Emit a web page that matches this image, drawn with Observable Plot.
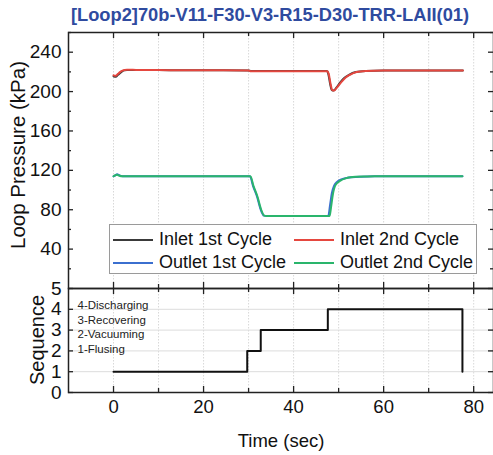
<!DOCTYPE html>
<html><head><meta charset="utf-8">
<script src="https://cdn.jsdelivr.net/npm/d3@7"></script>
<script src="https://cdn.jsdelivr.net/npm/@observablehq/plot@0.6"></script>
<style>
body{margin:0;background:#fff;font-family:Arial,"Liberation Sans",sans-serif;}
#wrap{position:relative;width:493px;height:455px;overflow:hidden;background:#fff;}
#wrap svg{position:absolute;left:0;background:transparent !important;}
.t{position:absolute;color:#111;white-space:nowrap;}
#title{left:40px;width:460px;top:4px;text-align:center;font-weight:bold;font-size:18.3px;color:#2f4b9f;}
#ylab1{left:18px;top:155px;font-size:20.5px;transform:translate(-50%,-50%) rotate(-90deg);}
#ylab2{left:37px;top:340px;font-size:20px;transform:translate(-50%,-50%) rotate(-90deg);}
#xlab{left:281px;top:441px;font-size:18.5px;transform:translate(-50%,-50%);}
#legend{position:absolute;left:109px;top:224px;width:368px;height:50px;border:1px solid #9a9a9a;background:#fff;box-sizing:border-box;}
.li{position:absolute;font-size:18px;color:#111;}
.li span{position:absolute;width:40px;height:1.6px;top:10px;left:0;}
.li b{font-weight:normal;position:absolute;left:46px;top:-1px;white-space:nowrap;line-height:22px;}
</style></head>
<body>
<div id="wrap">
<div id="p1"></div><div id="p2"></div>
<div class="t" id="title">[Loop2]70b-V11-F30-V3-R15-D30-TRR-LAII(01)</div>
<div class="t" id="ylab1">Loop Pressure (kPa)</div>
<div class="t" id="ylab2">Sequence</div>
<div class="t" id="xlab">Time (sec)</div>
<div id="legend"></div>
</div>
<script>
// ---- data ----
const seriesNames = ["Inlet 1st Cycle", "Inlet 2nd Cycle", "Outlet 1st Cycle", "Outlet 2nd Cycle"];
const seriesColors = ["#3a3a3a", "#e5473f", "#3b6fcf", "#2ab56c"];

const inlet1T = [0, 0.5, 1, 1.5, 2, 2.5, 3, 5, 10, 20, 30, 30.5, 40, 47.4, 47.7, 48.1, 48.5, 48.9, 49.5, 50.4, 51.3, 52.3, 53.8, 56, 60, 70, 77.6];
const inlet1P = [215.5, 215, 217, 219, 220.8, 221.6, 222, 222, 221.8, 221.6, 221.5, 220.8, 220.8, 220.8, 218, 208, 201.5, 201, 204, 209.5, 214, 217, 219.8, 221, 221.5, 221.5, 221.5];
const inlet2T = [0, 0.5, 1, 1.5, 2, 2.5, 3, 5, 10, 20, 30, 30.5, 40, 47.5, 47.8, 48.2, 48.6, 49, 49.6, 50.5, 51.5, 52.5, 54, 56, 60, 70, 77.6];
const inlet2P = [216.5, 216, 218, 220, 221.3, 221.9, 222.1, 222, 221.8, 221.6, 221.5, 220.6, 220.6, 220.6, 218, 208, 201.5, 201, 204, 209, 214, 217, 219.8, 221, 221.5, 221.5, 221.5];
const outlet1T = [0, 0.4, 0.8, 1.3, 2, 5, 10, 20, 30.3, 31, 31.9, 32.7, 33.4, 34, 40, 47.7, 48.1, 48.5, 49, 49.7, 50.6, 51.8, 53, 55, 58, 65, 77.5];
const outlet1P = [114, 115, 116, 115, 114, 114, 114, 114, 114, 104, 93, 80, 74, 73.6, 73.6, 73.6, 85, 97, 104.5, 108.5, 110.8, 112.3, 113, 113.6, 114, 114, 114];
const outlet2T = [0, 0.4, 0.8, 1.3, 2, 5, 10, 20, 30.4, 31.1, 32, 32.8, 33.5, 34, 40, 48, 48.3, 48.7, 49.3, 50.4, 51.5, 52.7, 54, 56, 58, 65, 77.5];
const outlet2P = [114, 115, 115.5, 114.5, 114, 114, 114, 114, 114, 104, 93, 80, 74, 73.6, 73.6, 73.6, 82, 95, 105, 109.5, 111.8, 113, 113.5, 113.8, 114, 114, 114];

const seqT = [0, 29.7, 32.7, 47.6, 77.5, 77.5];
const seqV = [1, 2, 3, 4, 4, 1];
const seqLabels = ["4-Discharging", "3-Recovering", "2-Vacuuming", "1-Flusing"];

const xMajor = [0, 20, 40, 60, 80];
const xMinor = [10, 30, 50, 70];
const xGrid = [0, 10, 20, 30, 40, 50, 60, 70, 80];
const yMajor = [40, 80, 120, 160, 200, 240];
const yMinor = [20, 60, 100, 140, 180, 220, 260];
const seqTicks = [0, 1, 2, 3, 4, 5];
const seqGrid = [1, 2, 3, 4];

// ---- build ----
const W = 493, ML = 68, MR = 0;
const IW = W - ML - MR;
const xDomain = [-10, 84.4];
const frameColor = "#222";

function mk(ts, ps, name) { return ts.map((t, i) => ({t, p: ps[i], s: name})); }
const pData = [
  ...mk(inlet1T, inlet1P, seriesNames[0]),
  ...mk(outlet1T, outlet1P, seriesNames[2]),
  ...mk(inlet2T, inlet2P, seriesNames[1]),
  ...mk(outlet2T, outlet2P, seriesNames[3])
];
const colorOf = Object.fromEntries(seriesNames.map((n, i) => [n, seriesColors[i]]));

// top panel
const H1 = 290, MT1 = 32, MB1 = 2;
const IH1 = H1 - MT1 - MB1;
const p1 = Plot.plot({
  width: W, height: H1, marginLeft: ML, marginRight: MR, marginTop: MT1, marginBottom: MB1,
  style: {background: "transparent", fontFamily: "Arial, 'Liberation Sans', sans-serif", color: "#111", overflow: "visible"},
  x: {domain: xDomain, axis: null},
  y: {domain: [0, 260], axis: null},
  marks: [
    Plot.ruleX(xGrid, {stroke: "#d8d8d8", strokeDasharray: "1.5,1.5", strokeWidth: 1}),
    Plot.line(pData, {x: "t", y: "p", z: "s", stroke: d => colorOf[d.s], strokeWidth: 2, curve: "monotone-x"}),
    Plot.axisY(yMajor, {tickSize: 0, tickPadding: 7, fontSize: 19, label: null}),
    Plot.tickY(yMajor, {y: d => d, insetRight: IW - 5, stroke: frameColor, strokeWidth: 1.3}),
    Plot.tickY(yMinor, {y: d => d, insetRight: IW - 3, stroke: frameColor, strokeWidth: 1.3}),
    Plot.tickY(yMajor, {y: d => d, insetLeft: IW - 5, stroke: frameColor, strokeWidth: 1.3}),
    Plot.tickY(yMinor, {y: d => d, insetLeft: IW - 3, stroke: frameColor, strokeWidth: 1.3}),
    Plot.tickX(xMajor, {x: d => d, insetBottom: IH1 - 6, stroke: frameColor, strokeWidth: 1.3}),
    Plot.tickX(xMinor, {x: d => d, insetBottom: IH1 - 4, stroke: frameColor, strokeWidth: 1.3}),
    Plot.tickX(xMajor, {x: d => d, insetTop: IH1 - 6, stroke: frameColor, strokeWidth: 1.3}),
    Plot.tickX(xMinor, {x: d => d, insetTop: IH1 - 4, stroke: frameColor, strokeWidth: 1.3}),
    Plot.frame({stroke: frameColor, strokeWidth: 1.5})
  ]
});
p1.style.top = "0px";
document.getElementById("p1").appendChild(p1);

// bottom panel
const H2 = 177, MT2 = 10, MB2 = 63;
const IH2 = H2 - MT2 - MB2;
const seqData = seqT.map((t, i) => ({t, v: seqV[i]}));
const p2 = Plot.plot({
  width: W, height: H2, marginLeft: ML, marginRight: MR, marginTop: MT2, marginBottom: MB2,
  style: {background: "transparent", fontFamily: "Arial, 'Liberation Sans', sans-serif", color: "#111", overflow: "visible"},
  x: {domain: xDomain, axis: null},
  y: {domain: [0, 5], axis: null},
  marks: [
    Plot.ruleX(xGrid, {stroke: "#d8d8d8", strokeDasharray: "1.5,1.5", strokeWidth: 1}),
    Plot.ruleY(seqGrid, {stroke: "#dcdcdc", strokeWidth: 1}),
    Plot.line(seqData, {x: "t", y: "v", curve: "step-after", stroke: "#111", strokeWidth: 2}),
    Plot.text([seqLabels.join("\n")], {frameAnchor: "top-left", dx: 9, dy: 10, lineHeight: 1.28, fontSize: 11.5, fill: "#222", textAnchor: "start"}),
    Plot.axisY(seqTicks, {tickSize: 0, tickPadding: 7, fontSize: 19, label: null}),
    Plot.axisX(xMajor, {tickSize: 0, tickPadding: 7, fontSize: 18.5, label: null}),
    Plot.tickY(seqTicks, {y: d => d, insetRight: IW - 5, stroke: frameColor, strokeWidth: 1.3}),
    Plot.tickY(seqTicks, {y: d => d, insetLeft: IW - 5, stroke: frameColor, strokeWidth: 1.3}),
    Plot.tickX(xMajor, {x: d => d, insetBottom: IH2 - 6, stroke: frameColor, strokeWidth: 1.3}),
    Plot.tickX(xMinor, {x: d => d, insetBottom: IH2 - 4, stroke: frameColor, strokeWidth: 1.3}),
    Plot.tickX(xMajor, {x: d => d, insetTop: IH2 - 6, stroke: frameColor, strokeWidth: 1.3}),
    Plot.tickX(xMinor, {x: d => d, insetTop: IH2 - 4, stroke: frameColor, strokeWidth: 1.3}),
    Plot.frame({stroke: frameColor, strokeWidth: 1.5})
  ]
});
p2.style.top = "278px";
document.getElementById("p2").appendChild(p2);

// legend
const legend = document.getElementById("legend");
const pos = [[3, 4], [184, 4], [3, 27], [184, 27]];
const order = [0, 1, 2, 3];
order.forEach((k, i) => {
  const d = document.createElement("div");
  d.className = "li";
  d.style.left = pos[i][0] + "px";
  d.style.top = pos[i][1] + "px";
  d.innerHTML = `<span style="background:${seriesColors[k]}"></span><b>${seriesNames[k]}</b>`;
  legend.appendChild(d);
});
</script>
</body></html>
